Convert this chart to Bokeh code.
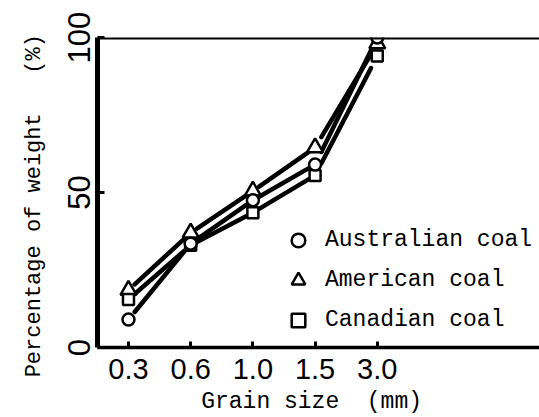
import numpy as np
from bokeh.plotting import figure
from bokeh.models import FixedTicker, Span, Legend, LegendItem, Range1d
from bokeh.embed import file_html
from bokeh.resources import INLINE

grain_sizes = ["0.3", "0.6", "1.0", "1.5", "3.0"]
australian = [9, 33.5, 47.5, 59, 100]
american = [18.5, 37, 50.5, 64.5, 98]
canadian = [15.5, 33, 43.5, 55.5, 94]
y_ticks = [0, 50, 100]

NB = "\u00a0"
x_title = "Grain size" + NB * 2 + "(mm)" + NB
y_title = "Percentage of weight" + NB * 3 + "(%)" + NB * 2

xs = np.arange(len(grain_sizes), dtype=float)

p = figure(width=539, height=417, output_backend="svg", toolbar_location=None,
           x_range=Range1d(-0.498, 6.608), y_range=Range1d(0, 100),
           min_border_left=97, min_border_right=0, min_border_top=37,
           min_border_bottom=70)
p.outline_line_color = None
p.grid.visible = False
p.background_fill_color = "white"
p.border_fill_color = "white"

# top line at 100 %
p.add_layout(Span(location=100, dimension="width", line_color="black", line_width=4))

# connecting lines (gapped near the markers)
shrink = 0.1
for ys in (australian, american, canadian):
    ys = np.asarray(ys, dtype=float)
    x0, x1 = xs[:-1], xs[1:]
    y0, y1 = ys[:-1], ys[1:]
    p.segment(x0 + shrink * (x1 - x0), y0 + shrink * (y1 - y0),
              x1 - shrink * (x1 - x0), y1 - shrink * (y1 - y0),
              line_color="black", line_width=4.5, line_cap="round")

r_am = p.scatter(xs, american, marker="triangle", size=16, line_color="black",
                 line_width=2.5, fill_color="white")
r_can = p.scatter(xs, canadian, marker="square", size=11, line_color="black",
                  line_width=2.5, fill_color="white")
r_aus = p.scatter(xs, australian, marker="circle", size=12, line_color="black",
                  line_width=2.5, fill_color="white")

legend = Legend(items=[LegendItem(label="Australian coal", renderers=[r_aus]),
                       LegendItem(label="American coal", renderers=[r_am]),
                       LegendItem(label="Canadian coal", renderers=[r_can])],
                location=(184, 10), padding=0, margin=0, spacing=6,
                glyph_width=34, glyph_height=34, label_height=34,
                label_standoff=10, border_line_color=None,
                background_fill_alpha=0,
                label_text_font="Liberation Mono", label_text_font_size="23px",
                label_text_color="black")
p.add_layout(legend, "center")

# x axis
xa = p.xaxis[0]
xa.ticker = FixedTicker(ticks=list(xs))
xa.major_label_overrides = {float(i): s for i, s in enumerate(grain_sizes)}
xa.major_label_overrides.update({int(i): s for i, s in enumerate(grain_sizes)})
xa.axis_line_width = 3.5
xa.major_tick_in = 6
xa.major_tick_out = 0
xa.major_tick_line_width = 3
xa.minor_tick_line_color = None
xa.major_label_text_font = "Liberation Sans"
xa.major_label_text_font_size = "29px"
xa.major_label_text_color = "black"
xa.major_label_standoff = 11
xa.axis_label = x_title
xa.axis_label_text_font = "Liberation Mono"
xa.axis_label_text_font_size = "23px"
xa.axis_label_text_font_style = "normal"
xa.axis_label_text_color = "black"
xa.axis_label_standoff = 7

# y axis
ya = p.yaxis[0]
ya.ticker = FixedTicker(ticks=y_ticks)
ya.axis_line_width = 5
ya.major_tick_in = 7
ya.major_tick_out = 0
ya.major_tick_line_width = 3
ya.minor_tick_line_color = None
ya.major_label_orientation = "vertical"
ya.major_label_text_font = "Liberation Sans"
ya.major_label_text_font_size = "31px"
ya.major_label_text_color = "black"
ya.major_label_standoff = 8
ya.axis_label = y_title
ya.axis_label_text_font = "Liberation Mono"
ya.axis_label_text_font_size = "22px"
ya.axis_label_text_font_style = "normal"
ya.axis_label_text_color = "black"
ya.axis_label_standoff = 18

open("out.html", "w").write(file_html(p, INLINE))
